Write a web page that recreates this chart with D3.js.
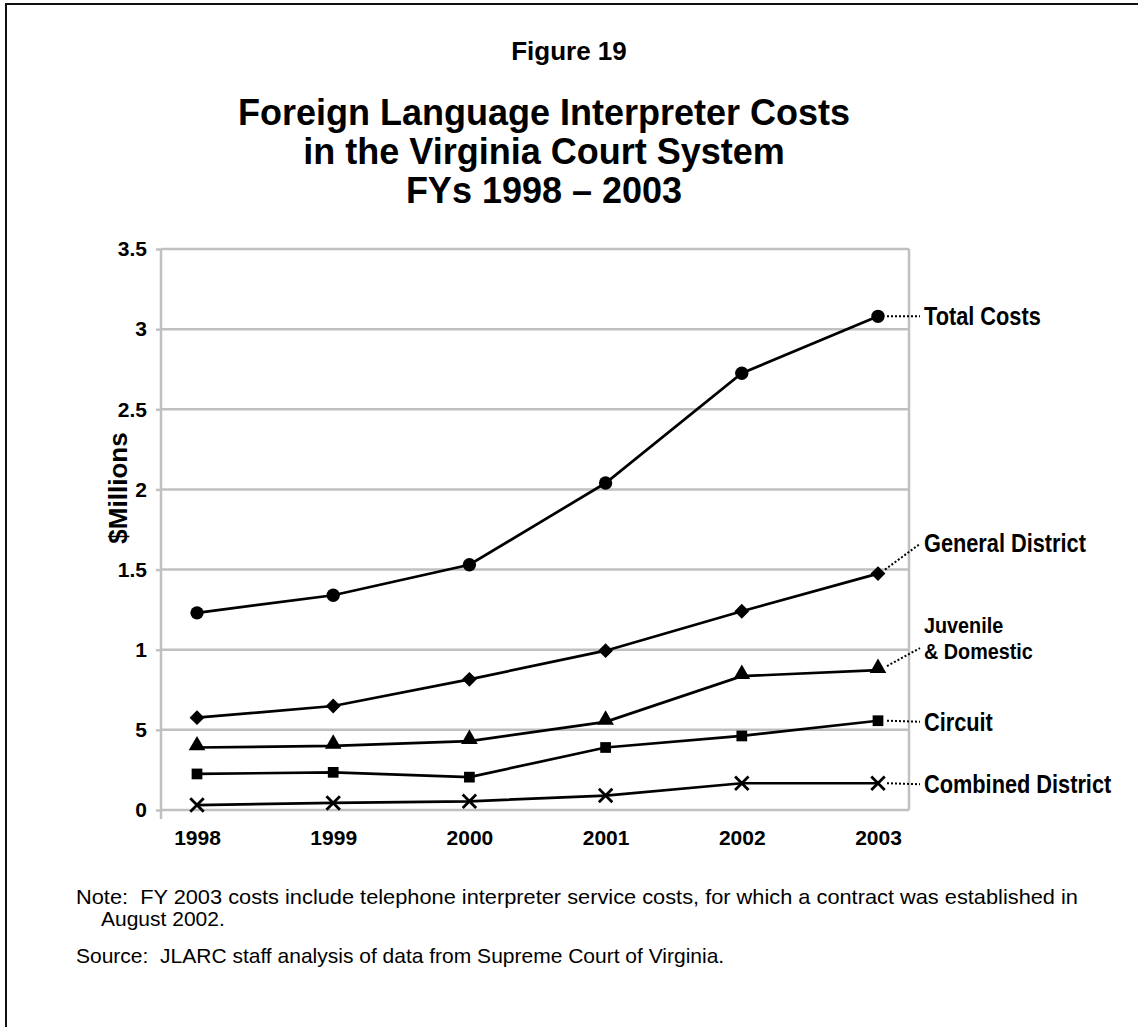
<!DOCTYPE html>
<html><head><meta charset="utf-8">
<script src="https://cdn.jsdelivr.net/npm/d3@7"></script>
<style>
html,body{margin:0;padding:0;background:#fff;}
svg{display:block;}
text{white-space:pre;}
</style></head>
<body>
<script>
// ---- data ----
const years = ["1998","1999","2000","2001","2002","2003"];
const totalCosts      = [1.23, 1.34, 1.53, 2.04, 2.725, 3.08];
const generalDistrict = [0.576, 0.649, 0.815, 0.994, 1.24, 1.475];
const juvenileDomestic= [0.39, 0.40, 0.43, 0.55, 0.835, 0.873];
const circuit         = [0.225, 0.235, 0.205, 0.39, 0.462, 0.557];
const combinedDistrict= [0.031, 0.044, 0.054, 0.09, 0.167, 0.167];
const yTickValues = [0, 0.5, 1, 1.5, 2, 2.5, 3, 3.5];
const yTickLabels = ["0", "5", "1", "1.5", "2", "2.5", "3", "3.5"];
const seriesNames = ["Total Costs", "General District", "Juvenile\n& Domestic", "Circuit", "Combined District"];
const markerTypes = ["circle", "diamond", "triangle", "square", "cross"];

const W = 1138, H = 1027;
const svg = d3.select("body").append("svg").attr("width", W).attr("height", H);

// frame
svg.append("rect").attr("x", 6).attr("y", 4).attr("width", 1160).attr("height", 1060)
  .attr("fill", "none").attr("stroke", "#111").attr("stroke-width", 2);

const sans = "'Liberation Sans', Arial, sans-serif";

// titles
svg.append("text").attr("x", 569).attr("y", 60).attr("text-anchor", "middle")
  .attr("font-family", sans).attr("font-weight", "bold").attr("font-size", 26).text("Figure 19");
const titleLines = ["Foreign Language Interpreter Costs", "in the Virginia Court System", "FYs 1998 \u2013 2003"];
titleLines.forEach((t, i) => {
  svg.append("text").attr("x", 544).attr("y", 125 + i * 39).attr("text-anchor", "middle")
    .attr("font-family", sans).attr("font-weight", "bold").attr("font-size", 36).text(t);
});

// scales
const plotLeft = 161, plotRight = 909, plotTop = 249, plotBottom = 810;
const x = d3.scalePoint().domain(years).range([197, 878]);
const y = d3.scaleLinear().domain([0, 3.5]).range([plotBottom, plotTop]);

// gridlines
svg.append("g").selectAll("line").data(yTickValues).join("line")
  .attr("x1", plotLeft).attr("x2", plotRight)
  .attr("y1", d => y(d)).attr("y2", d => y(d))
  .attr("stroke", "#c0c0c0").attr("stroke-width", 2.5);
// right border
svg.append("line").attr("x1", plotRight).attr("x2", plotRight).attr("y1", plotTop).attr("y2", plotBottom)
  .attr("stroke", "#c0c0c0").attr("stroke-width", 2.5);

// y axis
const yAxis = d3.axisLeft(y).tickValues(yTickValues)
  .tickFormat((d, i) => yTickLabels[i]).tickSize(5).tickPadding(9);
const gy = svg.append("g").attr("transform", `translate(${plotLeft},0)`).call(yAxis);
gy.select(".domain").remove();
gy.append("line").attr("x1", 0).attr("x2", 0).attr("y1", plotTop).attr("y2", plotBottom + 9)
  .attr("stroke", "#c0c0c0").attr("stroke-width", 2.5);
gy.selectAll(".tick line").attr("stroke", "#c0c0c0").attr("stroke-width", 2.5);
gy.selectAll(".tick text").attr("font-family", sans).attr("font-weight", "bold")
  .attr("font-size", 21).attr("fill", "#000");

// x axis
const xAxis = d3.axisBottom(x).tickSize(0).tickPadding(20);
const gx = svg.append("g").attr("transform", `translate(0,${plotBottom})`).call(xAxis);
gx.select(".domain").remove();
gx.selectAll(".tick text").attr("font-family", sans).attr("font-weight", "bold")
  .attr("font-size", 21).attr("fill", "#000");

// y title
svg.append("text").attr("transform", "translate(127,488) rotate(-90)").attr("text-anchor", "middle")
  .attr("font-family", sans).attr("font-weight", "bold").attr("font-size", 26).text("$Millions");

// series
const allSeries = [totalCosts, generalDistrict, juvenileDomestic, circuit, combinedDistrict];
const line = d3.line().x((d, i) => x(years[i])).y(d => y(d));
const diamondType = { draw(ctx, size) { const r = Math.sqrt(size / 2); ctx.moveTo(0, -r); ctx.lineTo(r, 0); ctx.lineTo(0, r); ctx.lineTo(-r, 0); ctx.closePath(); } };
const symbolMap = {
  circle: d3.symbol().type(d3.symbolCircle).size(140),
  diamond: d3.symbol().type(diamondType).size(110),
  triangle: d3.symbol().type(d3.symbolTriangle).size(120),
  square: d3.symbol().type(d3.symbolSquare).size(115),
  cross: d3.symbol().type(d3.symbolX).size(120)
};
allSeries.forEach((vals, si) => {
  svg.append("path").datum(vals).attr("d", line).attr("fill", "none")
    .attr("stroke", "#000").attr("stroke-width", 2.7);
  svg.append("g").selectAll("path").data(vals).join("path")
    .attr("transform", (d, i) => `translate(${x(years[i])},${y(d) + (markerTypes[si] === "triangle" ? -2 : 0)})`)
    .attr("d", symbolMap[markerTypes[si]]())
    .attr("fill", markerTypes[si] === "cross" ? "none" : "#000")
    .attr("stroke", "#000").attr("stroke-width", markerTypes[si] === "cross" ? 2.8 : 0);
});

// labels with dotted leaders
const lastX = x(years[years.length - 1]);
const labelX = 924;
// [leader start dx, start dy, end x, end y (relative to last point), label baseline dy]
const leaders = [
  [9, 0, 920, 0, 9],
  [7, -4, 919, -29, -22],
  [9, -4, 920, -22, -37],
  [9, 0, 920, 1, 10],
  [9, 0, 920, 1, 10]
];
allSeries.forEach((vals, si) => {
  const py = y(vals[vals.length - 1]);
  const L = leaders[si];
  svg.append("line").attr("x1", lastX + L[0]).attr("y1", py + L[1])
    .attr("x2", L[2]).attr("y2", py + L[3])
    .attr("stroke", "#000").attr("stroke-width", 2).attr("stroke-dasharray", "2,2");
  const lines = seriesNames[si].split("\n");
  const multi = lines.length > 1;
  lines.forEach((s, k) => {
    svg.append("text")
      .attr("transform", `translate(${labelX},${py + L[4] + k * 26}) scale(${multi ? 0.9 : 0.87},1)`)
      .attr("font-family", sans).attr("font-weight", "bold")
      .attr("font-size", multi ? 22 : 25).attr("fill", "#000").text(s);
  });
});

// notes
svg.append("text").attr("x", 76).attr("y", 904).attr("font-family", sans).attr("font-size", 21)
  .attr("textLength", 1002).attr("lengthAdjust", "spacingAndGlyphs")
  .text("Note:  FY 2003 costs include telephone interpreter service costs, for which a contract was established in");
svg.append("text").attr("x", 101).attr("y", 926).attr("font-family", sans).attr("font-size", 21)
  .text("August 2002.");
svg.append("text").attr("x", 76).attr("y", 963).attr("font-family", sans).attr("font-size", 21)
  .text("Source:  JLARC staff analysis of data from Supreme Court of Virginia.");
</script>
</body></html>
